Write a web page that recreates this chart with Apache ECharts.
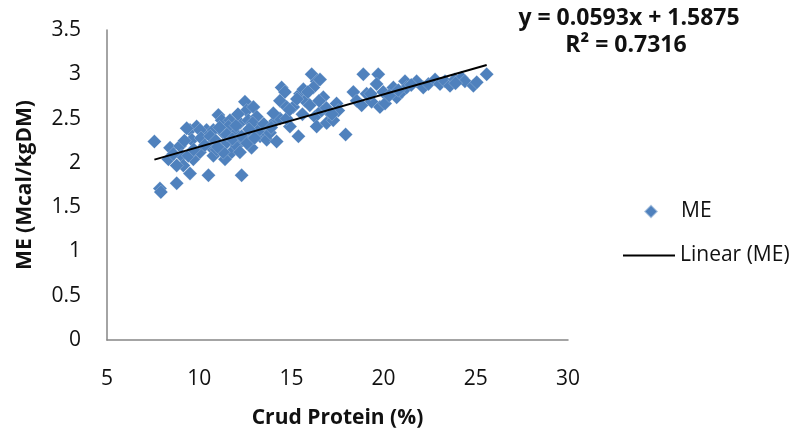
<!DOCTYPE html>
<html>
<head>
<meta charset="utf-8">
<script src="https://cdn.jsdelivr.net/npm/echarts@6/dist/echarts.min.js"></script>
<style>
html,body{margin:0;padding:0;background:#fff;}
#chart{width:794px;height:434px;}
</style>
</head>
<body>
<div id="chart"></div>
<script>
// Crude protein (%) values
var crudeProtein = [
  7.57, 7.87, 7.92, 8.78, 10.5, 12.3, 17.94, 9.5,
  8.42, 8.33, 8.96, 9.05, 9.14, 9.5, 9.86, 9.6, 9.68, 10.04, 10.22, 10.4,
  10.58, 10.77, 11.04, 11.22, 11.3, 11.49, 11.67, 11.76, 11.94, 12.03,
  12.21, 12.48, 12.57, 12.66, 12.75, 12.84, 12.94, 13.03, 13.12, 13.3,
  13.48, 13.66, 13.84, 14.11, 14.2, 14.38, 14.47, 14.65, 14.38, 14.74,
  14.92, 15.1, 15.38, 15.47, 15.65, 15.74, 16.0, 16.1, 16.37, 16.55,
  16.19, 16.28, 16.37, 16.64, 16.73, 16.91, 17.09, 17.27, 17.45, 17.54,
  18.36, 18.54, 18.9, 18.81, 19.08, 19.35, 19.71, 19.62, 19.8, 19.98,
  20.08, 20.53, 20.71, 20.98, 21.16, 21.25, 21.79, 22.15, 22.43, 22.79,
  23.06, 23.33, 23.6, 23.87, 24.23, 24.41, 24.87, 25.05, 25.59,
  8.78, 9.41, 9.32, 10.04, 10.77, 10.95, 11.4, 12.21, 11.58, 12.39, 14.02, 14.74,
  8.6, 9.2, 9.7, 10.1, 10.3, 10.6, 10.9, 11.1, 11.3, 11.5, 11.8, 12.0,
  12.3, 12.6, 12.9, 13.2, 13.5, 13.9, 11.0, 12.1, 12.7, 13.0,
  15.3, 15.9, 16.5, 16.9, 17.2, 15.6, 14.9,
  19.3, 20.3, 20.8, 21.5, 23.9
];
// Metabolisable energy (Mcal/kgDM) values
var metabolEnergy = [
  2.24, 1.71, 1.67, 1.77, 1.86, 1.86, 2.32, 1.88,
  2.17, 2.04, 2.19, 2.08, 1.97, 2.37, 2.41, 2.26, 2.04, 2.12, 2.30, 2.37,
  2.19, 2.08, 2.54, 2.48, 2.34, 2.23, 2.48, 2.12, 2.34, 2.19,
  2.45, 2.69, 2.59, 2.48, 2.34, 2.17, 2.63, 2.41, 2.52, 2.30,
  2.37, 2.26, 2.34, 2.47, 2.24, 2.50, 2.85, 2.80, 2.70, 2.63,
  2.41, 2.63, 2.30, 2.78, 2.83, 2.70, 2.65, 3.00, 2.92, 2.94,
  2.85, 2.52, 2.41, 2.59, 2.74, 2.45, 2.56, 2.48, 2.67, 2.59,
  2.80, 2.70, 3.00, 2.65, 2.78, 2.69, 3.00, 2.89, 2.63, 2.80,
  2.67, 2.85, 2.74, 2.80, 2.92, 2.85, 2.92, 2.85, 2.89, 2.94,
  2.89, 2.92, 2.87, 2.94, 2.96, 2.92, 2.87, 2.91, 3.00,
  1.97, 2.08, 2.39, 2.37, 2.37, 2.15, 2.04, 2.12, 2.41, 2.26, 2.56, 2.50,
  2.10, 2.25, 2.15, 2.28, 2.20, 2.30, 2.25, 2.40, 2.12, 2.32, 2.27, 2.42,
  2.30, 2.22, 2.45, 2.36, 2.44, 2.40, 2.18, 2.55, 2.38, 2.28,
  2.72, 2.80, 2.70, 2.62, 2.55, 2.55, 2.60,
  2.78, 2.76, 2.82, 2.88, 2.90
];
// Linear trend (from the reference's equation)
var trendSlope = 0.0593;
var trendIntercept = 1.5875;
var trendR2 = 0.7316;
// Axis ticks
var xTicks = [5, 10, 15, 20, 25, 30];
var yTicks = [0, 0.5, 1, 1.5, 2, 2.5, 3, 3.5];

var points = crudeProtein.map(function (x, i) { return [x, metabolEnergy[i]]; });
var xMin = Math.min.apply(null, crudeProtein);
var xMax = Math.max.apply(null, crudeProtein);
var trend = [
  [xMin, trendSlope * xMin + trendIntercept],
  [xMax, trendSlope * xMax + trendIntercept]
];

var FONT = '"Open Sans"';
var TXT = '#111';
var chart = echarts.init(document.getElementById('chart'));
chart.setOption({
  animation: false,
  backgroundColor: '#fff',
  textStyle: { fontFamily: FONT },
  grid: { left: 107, right: 226, top: 30, bottom: 89 },
  xAxis: {
    type: 'value',
    min: xTicks[0], max: xTicks[xTicks.length - 1], interval: 5,
    name: 'Crud Protein (%)',
    nameLocation: 'middle', nameGap: 68,
    nameTextStyle: { fontFamily: FONT, fontSize: 21, fontWeight: 'bold', color: TXT },
    axisLine: { lineStyle: { color: '#868686', width: 1.5 } },
    axisTick: { show: false },
    splitLine: { show: false },
    axisLabel: { fontFamily: FONT, fontSize: 21, color: TXT, margin: 29 }
  },
  yAxis: {
    type: 'value',
    min: yTicks[0], max: yTicks[yTicks.length - 1], interval: 0.5,
    name: 'ME (Mcal/kgDM)',
    nameLocation: 'middle', nameGap: 71,
    nameTextStyle: { fontFamily: FONT, fontSize: 21, fontWeight: 'bold', color: TXT },
    axisLine: { show: true, lineStyle: { color: '#868686', width: 1.5 } },
    axisTick: { show: false },
    splitLine: { show: false },
    axisLabel: { fontFamily: FONT, fontSize: 21, color: TXT, margin: 26 }
  },
  legend: [
    {
      data: [{ name: 'ME', icon: 'diamond' }],
      orient: 'vertical', left: 643, top: 201, padding: 0,
      itemWidth: 14, itemHeight: 14,
      textStyle: { fontFamily: FONT, fontSize: 21, color: TXT, padding: [0, 0, 0, 18] }
    },
    {
      data: [{ name: 'Linear (ME)', icon: 'rect' }],
      orient: 'vertical', left: 623, top: 245, padding: 0,
      itemWidth: 52, itemHeight: 2,
      textStyle: { fontFamily: FONT, fontSize: 21, color: TXT }
    }
  ],
  graphic: [
    { type: 'text', x: 629, y: 18, style: { text: 'y = 0.0593x + 1.5875', font: 'bold 23px "Open Sans"', fill: TXT, textAlign: 'center', textVerticalAlign: 'middle' } },
    { type: 'text', x: 626, y: 45, style: { text: 'R² = ' + trendR2.toFixed(4), font: 'bold 23px "Open Sans"', fill: TXT, textAlign: 'center', textVerticalAlign: 'middle' } }
  ],
  series: [
    {
      name: 'ME', type: 'scatter', data: points,
      symbol: 'diamond', symbolSize: 14,
      itemStyle: { color: '#4F81BD', opacity: 1, borderColor: 'rgba(255,255,255,0.5)', borderWidth: 0.4 }
    },
    {
      name: 'Linear (ME)', type: 'line', data: trend,
      symbol: 'none', showSymbol: false,
      lineStyle: { color: '#000', width: 2 },
      itemStyle: { color: '#000' },
      z: 3
    }
  ]
});
</script>
</body>
</html>
